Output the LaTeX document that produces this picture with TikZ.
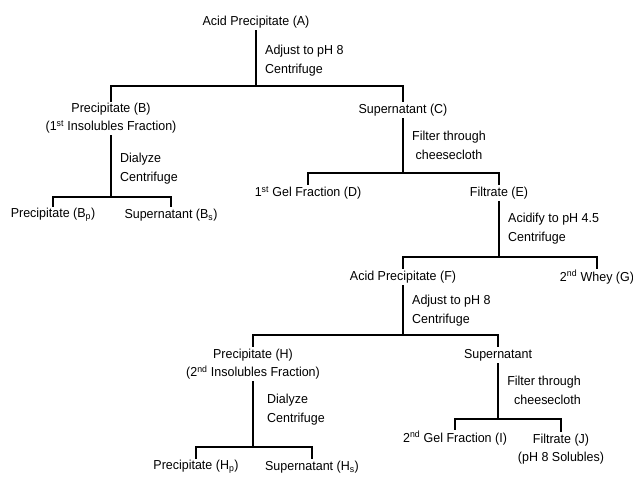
\documentclass[tikz,border=0pt]{standalone}
\usepackage{fontspec}
\setmainfont[FakeStretch=0.96]{Liberation Sans}
\begin{document}
\begin{tikzpicture}[x=1pt,y=-1pt,
  lbl/.style={inner sep=2pt, align=center, font=\fontsize{13}{18}\selectfont},
  steplbl/.style={inner sep=0pt, anchor=west, align=left, font=\fontsize{13}{19}\selectfont},
  ln/.style={line width=1.1pt, line cap=rect}]
\useasboundingbox (0,0) rectangle (633,477);
% level 1
\node[lbl] (A) at (256,22) {Acid Precipitate (A)};
\node[steplbl] (sA) at (265,61) {Adjust to pH 8\\Centrifuge};
\coordinate (hA) at (256,86);
\node[lbl] (B) at (111,118.5) {Precipitate (B)\\(1\textsuperscript{st} Insolubles Fraction)};
\node[lbl] (C) at (403,110) {Supernatant (C)};
% B branch
\node[steplbl] (sB) at (120,168.5) {Dialyze\\Centrifuge};
\coordinate (hB) at (111,197);
\node[lbl] (Bp) at (53,215) {Precipitate (B\textsubscript{p})};
\node[lbl] (Bs) at (171,215) {Supernatant (B\textsubscript{s})};
% C branch
\node[steplbl, align=center] (sC) at (412,145) {Filter through\\cheesecloth};
\coordinate (hC) at (403,173);
\node[lbl] (D) at (308,193) {1\textsuperscript{st} Gel Fraction (D)};
\node[lbl] (E) at (499,193) {Filtrate (E)};
% E branch
\node[steplbl] (sE) at (508,228.5) {Acidify to pH 4.5\\Centrifuge};
\coordinate (hE) at (499,257);
\node[lbl] (F) at (403,277) {Acid Precipitate (F)};
\node[lbl] (G) at (597,277) {2\textsuperscript{nd} Whey (G)};
% F branch
\node[steplbl] (sF) at (412,310.5) {Adjust to pH 8\\Centrifuge};
\coordinate (hF) at (403,335);
\node[lbl] (H) at (253,364) {Precipitate (H)\\(2\textsuperscript{nd} Insolubles Fraction)};
\node[lbl] (S) at (498,355) {Supernatant};
% H branch
\node[steplbl] (sH) at (267,410) {Dialyze\\Centrifuge};
\coordinate (hH) at (253,447);
\node[lbl] (Hp) at (196,467) {Precipitate (H\textsubscript{p})};
\node[lbl] (Hs) at (312,467) {Supernatant (H\textsubscript{s})};
% Supernatant branch
\node[steplbl, anchor=east, align=right] (sS) at (581,390) {Filter through\\cheesecloth};
\coordinate (hS) at (498,419);
\node[lbl] (I) at (455,438) {2\textsuperscript{nd} Gel Fraction (I)};
\node[lbl] (J) at (561,449) {Filtrate (J)\\(pH 8 Solubles)};
% connectors
\draw[ln] (A.south) -- (hA);
\draw[ln] (B.north) |- (hA) -| (C.north);
\draw[ln] (B.south) -- (hB);
\draw[ln] (Bp.north) |- (hB) -| (Bs.north);
\draw[ln] (C.south) -- (hC);
\draw[ln] (D.north) |- (hC) -| (E.north);
\draw[ln] (E.south) -- (hE);
\draw[ln] (F.north) |- (hE) -| (G.north);
\draw[ln] (F.south) -- (hF);
\draw[ln] (H.north) |- (hF) -| (S.north);
\draw[ln] (H.south) -- (hH);
\draw[ln] (Hp.north) |- (hH) -| (Hs.north);
\draw[ln] (S.south) -- (hS);
\draw[ln] (I.north) |- (hS) -| (J.north);
\end{tikzpicture}
\end{document}
